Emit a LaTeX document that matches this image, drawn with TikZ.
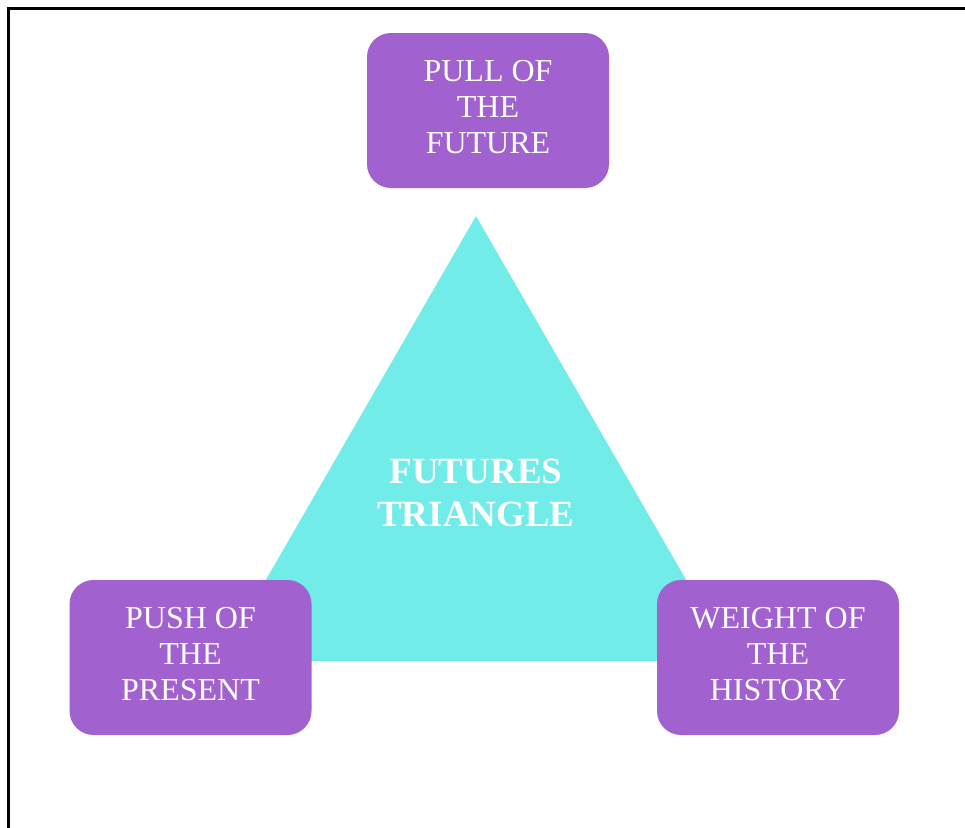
\documentclass[tikz,border=0pt]{standalone}
\usepackage{fontspec}
\setmainfont{Liberation Serif}
\definecolor{boxpurple}{RGB}{161,97,207}
\definecolor{tricyan}{RGB}{114,236,233}
\tikzset{
  forcebox/.style={fill=boxpurple, draw=none, rounded corners=24pt, minimum width=242pt, minimum height=155pt, inner sep=0pt},
  boxtext/.style={text=white, align=center, inner sep=0pt, font=\fontsize{32}{36}\selectfont},
  tritext/.style={text=white, align=center, font=\fontsize{37}{43}\bfseries\selectfont}
}
\begin{document}
\begin{tikzpicture}[x=1pt,y=-1pt]
\useasboundingbox (0,0) rectangle (965,827);
\begin{scope}
\clip (0,0) rectangle (965,827);
\draw[line width=3pt] (8,8) rectangle (1000,900);
\end{scope}
\coordinate (apex) at (476,216);
\coordinate (bl) at (219,661);
\coordinate (br) at (733,661);
\fill[tricyan] (apex) -- (bl) -- (br) -- cycle;
\node[tritext] (tri) at (476,493) {FUTURES\\TRIANGLE};
\node[forcebox] (pull) at (488,110.5) {};
\node[forcebox] (push) at (190.5,657.5) {};
\node[forcebox] (weight) at (778,657.5) {};
\node[boxtext] (pulltext) at ([yshift=3pt]pull.center) {PULL OF\\THE\\FUTURE};
\node[boxtext] (pushtext) at ([yshift=3pt]push.center) {PUSH OF\\THE\\PRESENT};
\node[boxtext] (weighttext) at ([yshift=3pt]weight.center) {WEIGHT OF\\THE\\HISTORY};
\end{tikzpicture}
\end{document}
